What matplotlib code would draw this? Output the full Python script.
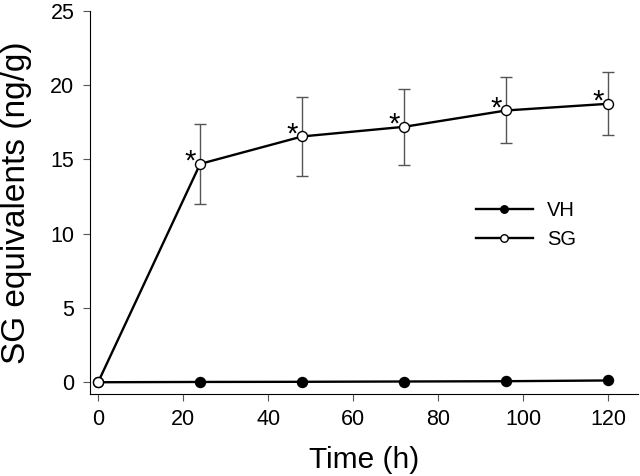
import matplotlib
matplotlib.use('Agg')
import matplotlib.pyplot as plt

plt.rcParams['font.family'] = ['Liberation Sans', 'DejaVu Sans']

# data
time_h = [0, 24, 48, 72, 96, 120]
vh_mean = [0.0, 0.02, 0.03, 0.05, 0.07, 0.12]
sg_mean = [0.0, 14.7, 16.55, 17.2, 18.3, 18.75]
sg_err = [0.0, 2.72, 2.66, 2.57, 2.22, 2.11]
signif = [False, True, True, True, True, True]

x_ticks = [0, 20, 40, 60, 80, 100, 120]
y_ticks = [0, 5, 10, 15, 20, 25]

fig = plt.figure(figsize=(6.4, 4.76), dpi=100)
ax = fig.add_axes([0.140, 0.172, 0.857, 0.805])

ax.plot(time_h, vh_mean, color='black', lw=1.7, marker='o', ms=7.2,
        mfc='black', mec='black', label='VH', zorder=3)
ax.errorbar(time_h[1:], sg_mean[1:], yerr=sg_err[1:], fmt='none',
            ecolor='#555555', elinewidth=1.0, capsize=4.5, capthick=1.0, zorder=2)
ax.plot(time_h, sg_mean, color='black', lw=1.7, marker='o', ms=7.2,
        mfc='white', mec='black', mew=1.0, label='SG', zorder=4)

for t, m, s in zip(time_h, sg_mean, signif):
    if s:
        ax.text(t - 2.4, m + 0.15, '*', ha='center', va='center', fontsize=21)

ax.set_xlim(-2, 127)
ax.set_ylim(-0.8, 25)
ax.set_xticks(x_ticks)
ax.set_yticks(y_ticks)
ax.spines['top'].set_visible(False)
ax.spines['right'].set_visible(False)
ax.tick_params(direction='out', length=5, color='#555555', labelsize=15.5, pad=6)

ax.set_xlabel('Time (h)', fontsize=21.5, labelpad=11)
ax.set_ylabel('SG equivalents (ng/g)', fontsize=24, labelpad=13)

ax.legend(loc='center left', bbox_to_anchor=(0.705, 0.441), frameon=False,
          fontsize=14.5, handlelength=2.8, handletextpad=0.7, labelspacing=0.5,
          borderpad=0, borderaxespad=0, markerscale=0.75)

fig.savefig('out.png', dpi=100)
